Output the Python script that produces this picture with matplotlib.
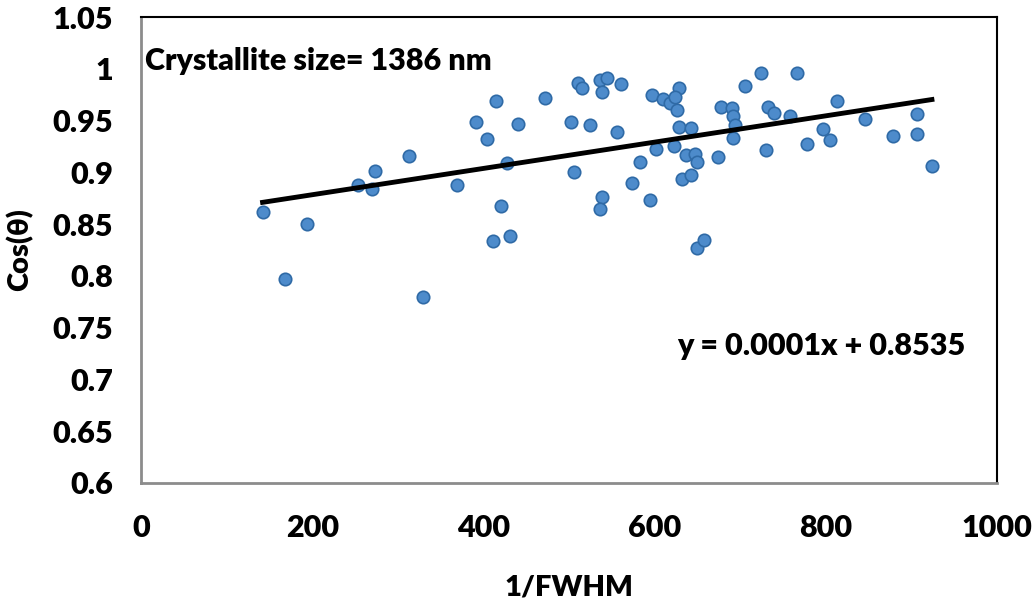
import numpy as np
import matplotlib.pyplot as plt
from matplotlib.ticker import FuncFormatter

# Data
inv_fwhm = [142, 194, 168, 254, 270, 273, 313, 330, 369, 391, 404, 415, 440, 427, 420,
            411, 431, 472, 502, 506, 511, 515, 536, 544, 538, 561, 524, 556, 539, 536,
            574, 583, 595, 597, 602, 610, 618, 626, 628, 624, 628, 643, 623, 637, 647,
            649, 632, 643, 649, 658, 674, 677, 690, 692, 694, 692, 706, 724, 730, 732,
            739, 758, 766, 778, 797, 805, 813, 846, 878, 907, 906, 924]
cos_theta = [0.862, 0.850, 0.797, 0.888, 0.884, 0.901, 0.916, 0.780, 0.888, 0.949, 0.932,
             0.969, 0.947, 0.909, 0.868, 0.834, 0.839, 0.972, 0.949, 0.900, 0.986, 0.981,
             0.989, 0.991, 0.978, 0.985, 0.946, 0.939, 0.876, 0.865, 0.890, 0.910, 0.873,
             0.975, 0.923, 0.971, 0.967, 0.960, 0.981, 0.973, 0.944, 0.943, 0.925, 0.917,
             0.918, 0.910, 0.894, 0.897, 0.827, 0.835, 0.915, 0.963, 0.962, 0.954, 0.946,
             0.933, 0.983, 0.996, 0.922, 0.963, 0.957, 0.954, 0.996, 0.927, 0.942, 0.931,
             0.969, 0.952, 0.935, 0.956, 0.937, 0.906]

# trend line as drawn (label rounds the slope)
trend_slope = 0.000127
trend_intercept = 0.853
eq_text = "y = 0.0001x + 0.8535"
size_text = "Crystallite size= 1386 nm"

plt.rcParams['font.family'] = ['Lato', 'DejaVu Sans']
plt.rcParams['font.weight'] = 'heavy'

fig = plt.figure(figsize=(10.34, 6.09), dpi=100)
ax = fig.add_axes([0.1364, 0.2069, 0.8278, 0.7651])

ax.scatter(inv_fwhm, cos_theta, s=80, color='#4d8bcb', edgecolors='#2f6aa6',
           linewidths=1.2, zorder=3)

xs = np.array([min(inv_fwhm), max(inv_fwhm)])
ax.plot(xs, trend_slope * xs + trend_intercept, color='black', lw=3.5, zorder=4)

ax.set_xlim(0, 1000)
ax.set_ylim(0.6, 1.05)
ax.set_xticks(np.arange(0, 1001, 200))
ax.set_yticks(np.arange(0.6, 1.051, 0.05))
ax.yaxis.set_major_formatter(FuncFormatter(lambda v, p: f"{v:.2f}".rstrip('0').rstrip('.')))
ax.tick_params(length=0, labelsize=22)
ax.tick_params(axis='y', pad=20)
ax.tick_params(axis='x', pad=22)
for lbl in ax.get_xticklabels() + ax.get_yticklabels():
    lbl.set_fontweight('heavy')

for s in ['top', 'right']:
    ax.spines[s].set_color('black')
    ax.spines[s].set_linewidth(1.5)
for s in ['left', 'bottom']:
    ax.spines[s].set_color('#8c8c8c')
    ax.spines[s].set_linewidth(2)

ax.set_xlabel("1/FWHM", fontsize=21, fontweight='heavy', labelpad=24)
ax.set_ylabel("Cos(θ)", fontsize=21, fontweight='heavy', labelpad=14)

ax.text(5, 1.008, size_text, fontsize=22, fontweight='heavy', va='center', ha='left')
ax.text(963, 0.732, eq_text, fontsize=22, fontweight='heavy', va='center', ha='right')

fig.savefig("out.png", dpi=100, facecolor='white')
